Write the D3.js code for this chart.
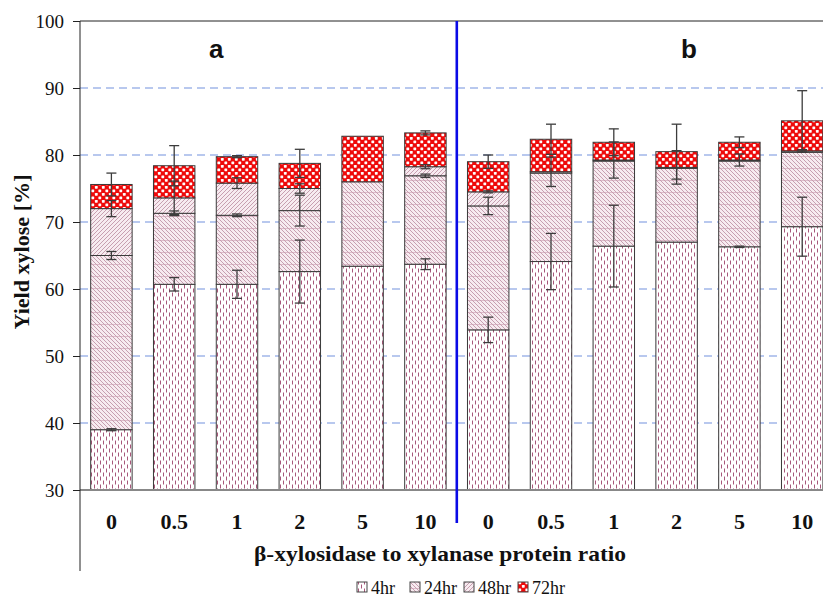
<!DOCTYPE html>
<html><head><meta charset="utf-8">
<script src="https://cdn.jsdelivr.net/npm/d3@7/dist/d3.min.js"></script>
<style>html,body{margin:0;padding:0;background:#fff;overflow:hidden}</style>
</head><body>
<svg id="chart" width="823" height="597"></svg>
<script>
// ---- data ----
const categories = ["0","0.5","1","2","5","10","0","0.5","1","2","5","10"];
const panels = ["a","b"];
const seriesNames = ["4hr","24hr","48hr","72hr"];
const v4hr  = [39.0, 60.7, 60.7, 62.6, 63.4, 63.7, 53.9, 64.1, 66.4, 67.0, 66.3, 69.3];
const v24hr = [26.0, 10.6, 10.3,  9.1, 12.6, 13.2, 18.5, 13.2, 12.7, 11.0, 12.8, 11.1];
const v48hr = [ 7.0,  2.3,  4.8,  3.3,  0.0,  1.35, 2.1,  0.2,  0.15, 0.15, 0.15, 0.2];
const v72hr = [ 3.6,  4.8,  3.95, 3.75, 6.8,  5.05, 4.5,  4.85, 2.65, 2.35, 2.65, 4.5];
const e4hr  = [0.15, 1.0, 2.1, 4.7, 0, 0.8, 1.9, 4.2, 6.1, 0, 0.1, 4.4];
const e24hr = [0.6, 0.35, 0.2, 2.3, 0, 0.25, 1.3, 0, 0, 0, 0, 0];
const e48hr = [1.2, 2.5, 0.8, 0.7, 0, 0.3, 0.15, 2.2, 2.7, 2.5, 0.9, 0.2];
const e72hr = [1.7, 3.0, 0.15, 2.1, 0, 0.3, 1.0, 2.25, 2.0, 4.1, 0.8, 4.5];
const yTicks = [30,40,50,60,70,80,90,100];
const yTitle = "Yield xylose [%]";
const xTitle = "β-xylosidase to xylanase protein ratio";

const values = [v4hr, v24hr, v48hr, v72hr];
const errors = [e4hr, e24hr, e48hr, e72hr];

const svg = d3.select("#chart");
const defs = svg.append("defs");
const serif = "'Liberation Serif', 'Times New Roman', serif";

// ---- patterns ----
const pink = "#a8577a";
function pat(id, w, h, bg){
  const p = defs.append("pattern").attr("id", id).attr("patternUnits","userSpaceOnUse")
    .attr("width", w).attr("height", h);
  p.append("rect").attr("width", w).attr("height", h).attr("fill", bg);
  return p;
}
let p4 = pat("p4hr", 6, 8, "#ffffff");
p4.append("path").attr("d","M1.5,0.5 V4.5 M4.5,4.5 V8.5 M4.5,-0.5 V0.5").attr("stroke", pink).attr("stroke-width",1);
let p24 = pat("p24hr", 4, 12, "#f7ebf0");
p24.append("path").attr("d", [-4,0,4,8,12].map(k=>`M0,${k} L4,${k+4}`).join(" "))
  .attr("stroke", "#bb8ba0").attr("stroke-width",0.8);
p24.append("path").attr("d","M0,0.5 H4").attr("stroke","#c99aae").attr("stroke-width",0.6);
let p48 = pat("p48hr", 4, 4, "#f7ebf0");
p48.append("path").attr("d", [0,4,8].map(k=>`M0,${k} L4,${k-4}`).join(" "))
  .attr("stroke", "#bb8ba0").attr("stroke-width",0.8);
let p72 = pat("p72hr", 7, 7, "#ee0a0a");
p72.append("rect").attr("x",0.4).attr("y",0.4).attr("width",2.8).attr("height",2.8).attr("fill","#fff").attr("rx",0.6);
p72.append("rect").attr("x",3.9).attr("y",3.9).attr("width",2.8).attr("height",2.8).attr("fill","#fff").attr("rx",0.6);
const fills = ["url(#p4hr)","url(#p24hr)","url(#p48hr)","url(#p72hr)"];

// ---- scales ----
const mLeft = 80, mTop = 21, mBottom = 490, rightEdge = 823;
const idx = d3.range(categories.length);
const x = d3.scaleBand().domain(idx).range([mLeft, 833.6]).paddingInner(0.34).paddingOuter(0.17);
const y = d3.scaleLinear().domain([30,100]).range([mBottom, mTop]).clamp(true);

svg.append("g").selectAll("line").data(yTicks.filter(t=>t>30 && t<100)).join("line")
  .attr("x1", mLeft).attr("x2", rightEdge).attr("y1", d=>y(d)).attr("y2", d=>y(d))
  .attr("stroke","#7391de").attr("stroke-width",1.2).attr("stroke-dasharray","8,5");

const rows = idx.map(i => {
  const r = {i};
  seriesNames.forEach((s,k)=> r[s] = values[k][i]);
  return r;
});
const stack = d3.stack().keys(seriesNames)(rows);

const gBars = svg.append("g");
stack.forEach((layer,k) => {
  gBars.append("g").selectAll("rect").data(layer).join("rect")
    .attr("x", d => x(d.data.i))
    .attr("width", x.bandwidth())
    .attr("y", d => y(d[1]))
    .attr("height", d => Math.max(0, y(d[0]) - y(d[1])))
    .attr("fill", fills[k])
    .attr("stroke", "#3a3a3a").attr("stroke-width", 1);
});

const gErr = svg.append("g").attr("stroke","#3c3c3c").attr("stroke-width",1.3);
stack.forEach((layer,k) => {
  layer.forEach((d,i) => {
    const e = errors[k][i];
    if (!e) return;
    const cx = x(d.data.i) + x.bandwidth()/2;
    const y1 = y(d[1] + e), y2 = y(d[1] - e);
    gErr.append("line").attr("x1",cx).attr("x2",cx).attr("y1",y1).attr("y2",y2);
    gErr.append("line").attr("x1",cx-5).attr("x2",cx+5).attr("y1",y1).attr("y2",y1);
    gErr.append("line").attr("x1",cx-5).attr("x2",cx+5).attr("y1",y2).attr("y2",y2);
  });
});

svg.append("line").attr("x1",mLeft).attr("x2",rightEdge).attr("y1",mTop).attr("y2",mTop)
  .attr("stroke","#222").attr("stroke-width",1);
svg.append("line").attr("x1",mLeft).attr("x2",rightEdge).attr("y1",mBottom).attr("y2",mBottom)
  .attr("stroke","#888").attr("stroke-width",2);
svg.append("line").attr("x1",mLeft).attr("x2",mLeft).attr("y1",mTop).attr("y2",571)
  .attr("stroke","#222").attr("stroke-width",1);

const sepX = x(6) - x.step()*x.paddingInner()/2;
svg.append("line").attr("x1",sepX).attr("x2",sepX).attr("y1",mTop).attr("y2",523)
  .attr("stroke","#0a0ae6").attr("stroke-width",2.6);

const yAxis = d3.axisLeft(y).tickValues(yTicks).tickSize(7).tickPadding(9);
const ga = svg.append("g").attr("transform",`translate(${mLeft},0)`).call(yAxis);
ga.select(".domain").remove();
ga.selectAll("line").attr("stroke","#222");
ga.selectAll("text").attr("font-family",serif).attr("font-size",19).attr("fill","#111");

svg.append("g").selectAll("text").data(idx).join("text")
  .attr("x", i => x(i) + x.bandwidth()/2).attr("y", 529)
  .attr("text-anchor","middle")
  .attr("font-family",serif).attr("font-weight","bold")
  .attr("font-size",22).attr("fill","#111")
  .text(i => categories[i]);

const panelX = [x(2), x(9) + x.bandwidth()*0.8];
svg.append("g").selectAll("text").data(panels).join("text")
  .attr("x",(d,i)=>panelX[i]).attr("y",58).attr("text-anchor","middle")
  .attr("font-family","'Liberation Sans', Arial, sans-serif").attr("font-weight","bold")
  .attr("font-size",26).attr("fill","#111").text(d=>d);

svg.append("text").attr("x",440).attr("y",561).attr("text-anchor","middle")
  .attr("font-family",serif).attr("font-weight","bold")
  .attr("font-size",22).attr("fill","#111")
  .attr("textLength",372).attr("lengthAdjust","spacingAndGlyphs").text(xTitle);
svg.append("text").attr("transform","translate(29,252) rotate(-90)").attr("text-anchor","middle")
  .attr("font-family",serif).attr("font-weight","bold")
  .attr("font-size",21).attr("fill","#111")
  .attr("textLength",155).attr("lengthAdjust","spacingAndGlyphs").text(yTitle);

const legX = [357, 410, 464, 518];
const lg = svg.append("g");
seriesNames.forEach((s,k)=>{
  lg.append("rect").attr("x",legX[k]).attr("y",582).attr("width",10).attr("height",10)
    .attr("fill",fills[k]).attr("stroke","#444").attr("stroke-width",1);
  lg.append("text").attr("x",legX[k]+14).attr("y",594)
    .attr("font-family",serif).attr("font-size",18).attr("fill","#111").text(s);
});
</script>
</body></html>
